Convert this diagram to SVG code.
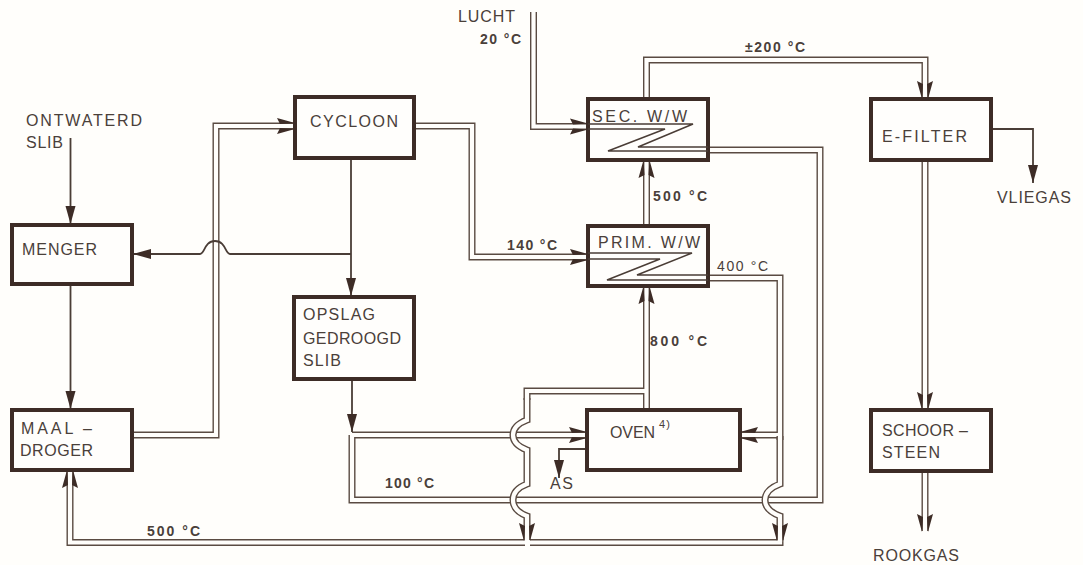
<svg xmlns="http://www.w3.org/2000/svg" width="1083" height="565" viewBox="0 0 1083 565">
<style>
text{font-family:"Liberation Sans",Arial,sans-serif;font-size:16px;fill:#4a403a}
.t{font-weight:bold;font-size:14px}
.box{fill:#fffefc;stroke:#3d2c26;stroke-width:4}
.po{fill:none;stroke:#5a4b42;stroke-width:7}
.pi{fill:none;stroke:#fffefb;stroke-width:4.2}
.s{fill:none;stroke:#4a3d36;stroke-width:1.8}
.z{fill:none;stroke:#4a3d36;stroke-width:1.5}
.h{fill:#3d2c26}
</style>
<defs>
<path id="dh" d="M0 -3 L-18 -8 L-15 -2 Z M0 3 L-18 8 L-15 2 Z"/>
<marker id="sa" markerUnits="userSpaceOnUse" markerWidth="20" markerHeight="12" refX="18" refY="6" orient="auto"><path d="M0 1 L18 6 L0 11 Z" fill="#3d2c26"/></marker>
</defs>
<rect width="1083" height="565" fill="#fffefb"/>
<g id="connectors">
<g class="po">
<path d="M533.5 12V126.5H588"/><path d="M646.5 99V60H925V99"/><path d="M708 150H820V500H352V435"/><path d="M352 435H587"/>
<path d="M131 435H216V126H295"/><path d="M414 126H472V257H588"/><path d="M646.5 226V160"/><path d="M646.5 410V286"/>
<path d="M646.5 391H527V400"/><path d="M708 278H780V440"/><path d="M780 435H740"/><path d="M70 470V542.500H525"/><path d="M530 542.500H780V530"/>
<path d="M925 160V410"/><path d="M925 470V531"/>
</g>
<g class="pi">
<path d="M533.500 12V126.500H588"/><path d="M646.500 99V60H925V99"/><path d="M708 150H820V500H352V435"/><path d="M352 435H587"/>
<path d="M131 435H216V126H295"/><path d="M414 126H472V257H588"/><path d="M646.500 226V160"/><path d="M646.500 410V286"/>
<path d="M646.500 391H527V400"/><path d="M708 278H780V440"/><path d="M780 435H740"/><path d="M70 470V542.500H525"/><path d="M530 542.500H780V530"/>
<path d="M925 160V410"/><path d="M925 470V533"/>
</g>
<path class="po" d="M527 398V420C519 423 513 427 513 435C513 443 519 447 527 450V484C519 487 513 492 513 500C513 508 519 513 527 516V540"/>
<path class="pi" d="M527 398V420C519 423 513 427 513 435C513 443 519 447 527 450V484C519 487 513 492 513 500C513 508 519 513 527 516V542"/>
<path class="po" d="M780 436V484C772 487 765 492 765 500C765 508 772 513 780 516V540"/>
<path class="pi" d="M780 436V484C772 487 765 492 765 500C765 508 772 513 780 516V542"/>
<path class="s" d="M70.500 138V224" marker-end="url(#sa)"/>
<path class="s" d="M70.500 284V409" marker-end="url(#sa)"/>
<path class="s" d="M351 158V296" marker-end="url(#sa)"/>
<path class="s" d="M351 254H230C225 254 226 241 215 241C204 241 205 254 200 254H133" marker-end="url(#sa)"/>
<path class="s" d="M352 379V432" marker-end="url(#sa)"/>
<path class="s" d="M587 449H559V478" marker-end="url(#sa)"/>
<path class="s" d="M991 129H1033V183" marker-end="url(#sa)"/>
<g class="h">
<use href="#dh" transform="translate(588 126.500)"/><use href="#dh" transform="translate(588 257)"/><use href="#dh" transform="translate(295 126)"/><use href="#dh" transform="translate(587 435)"/>
<use href="#dh" transform="translate(740 435) rotate(180)"/><use href="#dh" transform="translate(646.500 160) rotate(-90)"/><use href="#dh" transform="translate(646.500 286) rotate(-90)"/>
<use href="#dh" transform="translate(70 470) rotate(-90)"/><use href="#dh" transform="translate(925 99) rotate(90)"/><use href="#dh" transform="translate(925 410) rotate(90)"/><use href="#dh" transform="translate(925 532) rotate(90)"/>
<use href="#dh" transform="translate(527 541) rotate(90)"/><use href="#dh" transform="translate(780 541) rotate(90)"/>
</g>
</g>
<g id="menger"><rect class="box" x="12" y="225" width="120" height="59"/><text x="22" y="255" textLength="75">MENGER</text></g>
<g id="maaldroger"><rect class="box" x="12" y="410" width="120" height="60"/><text x="21" y="434" textLength="71">MAAL –</text><text x="20" y="456" textLength="73">DROGER</text></g>
<g id="cycloon"><rect class="box" x="295" y="97" width="119" height="61"/><text x="310" y="127" textLength="88">CYCLOON</text></g>
<g id="opslag"><rect class="box" x="294" y="297" width="120" height="82"/><text x="303" y="320" textLength="72">OPSLAG</text><text x="303" y="344" textLength="98">GEDROOGD</text><text x="303" y="366" textLength="38">SLIB</text></g>
<g id="sec"><rect class="box" x="588" y="99" width="120" height="61"/><text x="592" y="122" textLength="95">SEC. W/W</text><path class="z" d="M588 124H693L638 147H708M588 129H665L608 151H708"/></g>
<g id="prim"><rect class="box" x="588" y="226" width="120" height="60"/><text x="598" y="248" textLength="102">PRIM. W/W</text><path class="z" d="M588 253H692L637 275H708M588 259H660L607 280H708"/></g>
<g id="oven"><rect class="box" x="587" y="410" width="153" height="60"/><text x="610" y="438" textLength="45">OVEN</text><text x="659" y="428" style="font-size:11px" textLength="11">4)</text></g>
<g id="efilter"><rect class="box" x="871" y="99" width="120" height="61"/><text x="882" y="142" textLength="85">E-FILTER</text></g>
<g id="schoorsteen"><rect class="box" x="871" y="410" width="120" height="61"/><text x="882" y="436" textLength="86">SCHOOR –</text><text x="882" y="458" textLength="58">STEEN</text></g>
<g id="labels">
<text x="458" y="22" textLength="57">LUCHT</text><text class="t" x="480" y="44" textLength="41">20 °C</text>
<text x="26" y="126" textLength="116">ONTWATERD</text><text x="26" y="148" textLength="37">SLIB</text>
<text class="t" x="745" y="52" textLength="60">±200 °C</text><text class="t" x="653" y="201" textLength="54">500 °C</text><text class="t" x="507" y="250" textLength="50">140 °C</text>
<text x="717" y="271" style="font-size:14px" textLength="51">400 °C</text><text class="t" x="650" y="346" textLength="57">800 °C</text><text class="t" x="385" y="488" textLength="49">100 °C</text><text class="t" x="147" y="536" textLength="53">500 °C</text>
<text x="997" y="203" textLength="74">VLIEGAS</text><text x="873" y="561" textLength="86">ROOKGAS</text><text x="550" y="489" textLength="23">AS</text>
</g>
</svg>
